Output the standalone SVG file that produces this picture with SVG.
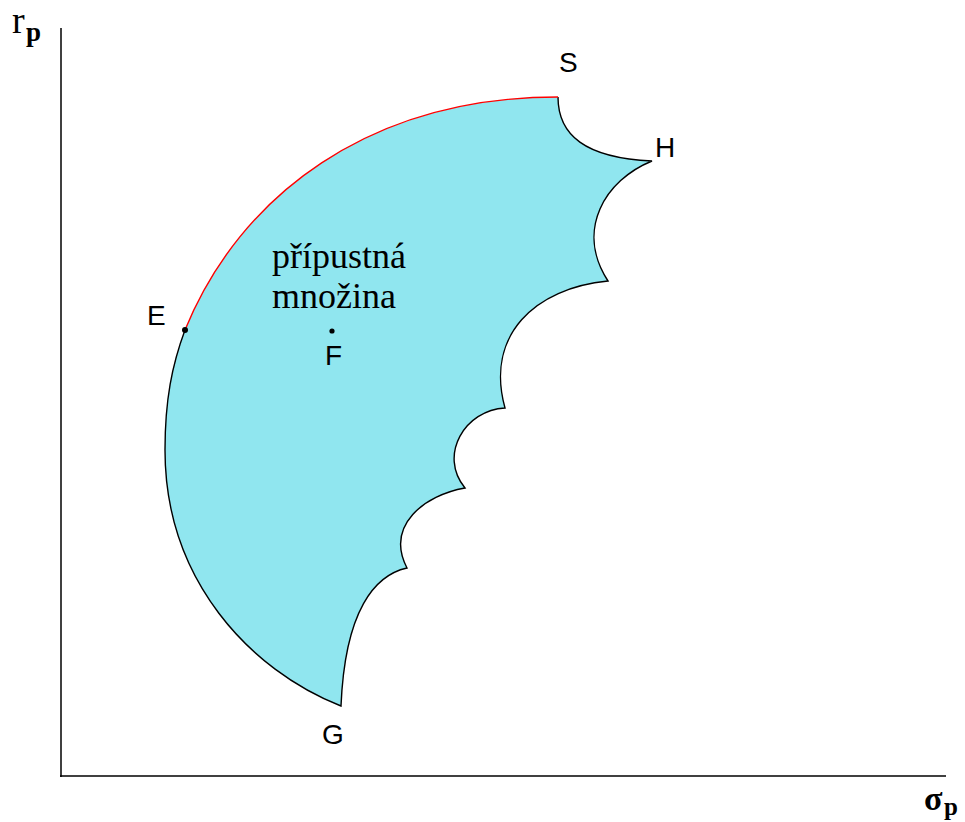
<svg xmlns="http://www.w3.org/2000/svg" width="965" height="822" viewBox="0 0 965 822">
<style>
.lbl{font-family:"Liberation Sans",Arial,sans-serif;font-size:28px;fill:#000}
.ser{font-family:"Liberation Serif","Times New Roman",serif;fill:#000}
.edge{fill:none;stroke:#000;stroke-width:1.4}
.eff{fill:none;stroke:#ff0000;stroke-width:1.4}
</style>
<rect width="965" height="822" fill="#fff"/>
<g id="axes">
<line x1="61" y1="28" x2="61" y2="777" stroke="#000" stroke-width="1.5"/>
<line x1="60" y1="776" x2="946" y2="776" stroke="#000" stroke-width="1.5"/>
<text class="ser" x="12" y="33" font-size="38">r</text>
<text class="ser" x="26" y="41" font-size="27" font-weight="bold">p</text>
<text class="ser" x="924" y="810" font-size="34" font-weight="bold">σ</text>
<text class="ser" x="944" y="815" font-size="25" font-weight="bold">p</text>
</g>
<g id="region">
<path fill="#90E6EF" stroke="none" d="M558,97 C558,135 585,158 652,161 C605,180 575,230 608,281 C535,288 485,335 505,408 C465,410 438,455 465,488 C425,495 385,525 407,568 C375,575 345,610 341,706 C250,670 165,580 165,450 C165,400 172,365 185,330 C240,195 370,97 558,97 Z"/>
<path class="edge" d="M558,97 C558,135 585,158 652,161 C605,180 575,230 608,281 C535,288 485,335 505,408 C465,410 438,455 465,488 C425,495 385,525 407,568 C375,575 345,610 341,706 C250,670 165,580 165,450 C165,400 172,365 185,330"/>
<path class="eff" d="M185,330 C240,195 370,97 558,97"/>
<text class="ser" x="272" y="268" font-size="36">přípustná</text>
<text class="ser" x="272" y="308" font-size="36">množina</text>
</g>
<g id="E"><circle cx="185" cy="330" r="3" fill="#000"/><text class="lbl" x="147" y="325">E</text></g>
<g id="F"><circle cx="332" cy="331" r="2.6" fill="#000"/><text class="lbl" x="325" y="365">F</text></g>
<g id="S"><text class="lbl" x="559" y="72">S</text></g>
<g id="H"><text class="lbl" x="655" y="157">H</text></g>
<g id="G"><text class="lbl" x="322" y="744">G</text></g>
</svg>
